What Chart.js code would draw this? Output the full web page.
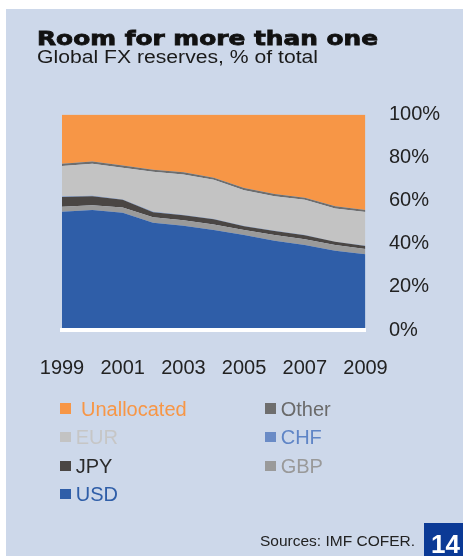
<!DOCTYPE html>
<html>
<head>
<meta charset="utf-8">
<script src="https://cdn.jsdelivr.net/npm/chart.js@4/dist/chart.umd.min.js"></script>
<style>
  html, body { margin: 0; padding: 0; background: #ffffff; }
  #page { position: relative; width: 463px; height: 556px; overflow: hidden; background: #ffffff; }
  #panel { position: absolute; left: 6px; top: 9px; width: 457px; height: 547px; background: #cdd8ea; }
  #chart { position: absolute; left: 0; top: 0; }
  .txt { position: absolute; white-space: nowrap; line-height: 1; font-family: "Liberation Sans", Arial, sans-serif; }
  #title { left: 37px; top: 28.6px; font-family: "DejaVu Sans", sans-serif; font-weight: bold; font-size: 19.5px; color: #111; -webkit-text-stroke: 0.8px #111; transform-origin: 0 0; display: inline-block; }
  #subtitle { left: 37px; top: 48.5px; font-size: 17.5px; color: #1a1a1a; transform-origin: 0 0; display: inline-block; }
  .sw { position: absolute; width: 10.5px; height: 10.5px; }
  #source { left: 260px; top: 532.6px; font-size: 15.5px; color: #222; }
  #pagebox { position: absolute; left: 424px; top: 523px; width: 39px; height: 33px; background: #0b3a96; }
  #pagenum { left: 431px; top: 530.7px; font-size: 26px; font-weight: bold; color: #ffffff; }
</style>
</head>
<body>
<div id="page">
  <div id="panel"></div>
  <canvas id="chart" width="463" height="556"></canvas>
  <span class="txt" id="title">Room for more than one</span>
  <span class="txt" id="subtitle">Global FX reserves, % of total</span>
  <div id="legend"></div>
  <span class="txt" id="source">Sources: IMF COFER.</span>
  <div id="pagebox"></div>
  <span class="txt" id="pagenum">14</span>
</div>
<script>
// ---- data, % of total global FX reserves ----
const years = ['1999','2000','2001','2002','2003','2004','2005','2006','2007','2008','2009'];
const usd         = [54.9, 55.7, 54.4, 49.8, 48.4, 46.4, 44.1, 41.4, 39.4, 36.8, 35.1];
const gbp         = [2.3, 2.2, 2.4, 2.5, 2.5, 2.6, 2.3, 2.7, 2.7, 2.6, 2.5];
const jpy         = [4.5, 4.2, 3.6, 2.3, 2.3, 2.4, 1.8, 1.8, 1.9, 1.5, 1.4];
const chf         = [0.2, 0.2, 0.2, 0.3, 0.2, 0.1, 0.1, 0.1, 0.1, 0.1, 0.1];
const eur         = [14.2, 14.8, 14.7, 18.5, 18.8, 18.2, 16.6, 16.1, 16.3, 15.4, 15.6];
const other       = [1.1, 1.1, 1.0, 1.0, 1.0, 1.0, 1.0, 1.0, 1.0, 1.0, 1.0];
const unallocated = [22.8, 21.8, 23.7, 25.6, 26.8, 29.3, 34.1, 36.9, 38.6, 42.6, 44.3];
const yTicks = [0, 20, 40, 60, 80, 100];

// stacking order bottom -> top
const series = [
  { name: 'USD',         data: usd,         color: '#2f5ea8', text: '#2f5ea8' },
  { name: 'GBP',         data: gbp,         color: '#9a9a9a', text: '#999999' },
  { name: 'JPY',         data: jpy,         color: '#4a4644', text: '#2b2b2b' },
  { name: 'CHF',         data: chf,         color: '#6a8bc6', text: '#5f85c6' },
  { name: 'EUR',         data: eur,         color: '#c3c3c3', text: '#c6c6c6' },
  { name: 'Other',       data: other,       color: '#6e6e6e', text: '#6a6a6a' },
  { name: 'Unallocated', data: unallocated, color: '#f79646', text: '#f79646' }
];

const datasets = series.map((s, i) => ({
  label: s.name,
  data: s.data,
  backgroundColor: s.color,
  borderColor: s.color,
  borderWidth: 0,
  pointRadius: 0,
  tension: 0,
  fill: i === 0 ? 'origin' : '-1'
}));

const plotArea = { left: 62, right: 365.5, top: 114.5, bottom: 330 };
const W = 463, H = 556;

new Chart(document.getElementById('chart'), {
  type: 'line',
  data: { labels: years, datasets },
  options: {
    responsive: false,
    animation: false,
    layout: { padding: { left: plotArea.left, top: plotArea.top, right: 0, bottom: H - plotArea.bottom - 60 } },
    plugins: { legend: { display: false }, tooltip: { enabled: false }, title: { display: false } },
    elements: { line: { borderWidth: 0 } },
    scales: {
      x: {
        type: 'category',
        offset: false,
        grid: { display: false, drawTicks: false },
        border: { display: true, color: '#ffffff', width: 4, z: 1 },
        afterFit: s => { s.height = 60; },
        ticks: {
          autoSkip: false, maxRotation: 0, padding: 26,
          color: '#222222',
          font: { family: '"Liberation Sans", Arial, sans-serif', size: 20 },
          callback: function (v, i) { return i % 2 === 0 ? years[i] : ''; }
        }
      },
      y: {
        position: 'right',
        stacked: true,
        min: 0, max: 100,
        afterFit: s => { s.width = W - plotArea.right; },
        afterBuildTicks: s => { s.ticks = yTicks.map(v => ({ value: v })); },
        grid: { display: false, drawTicks: false },
        border: { display: false },
        ticks: {
          padding: 23.5,
          color: '#222222',
          font: { family: '"Liberation Sans", Arial, sans-serif', size: 20 },
          callback: v => v + '%'
        }
      }
    }
  }
});

// ---- HTML legend, two columns, in reverse stacking order ----
const legendOrder = series.slice().reverse();
const legend = document.getElementById('legend');
const colX = [60, 265];
const rowY = [408.3, 436.8, 465.8, 494.2];
legendOrder.forEach((s, i) => {
  const col = i % 2, row = Math.floor(i / 2);
  const cy = rowY[row];
  const sw = document.createElement('div');
  sw.className = 'sw';
  sw.style.left = colX[col] + 'px';
  sw.style.top = (cy - 5.25) + 'px';
  sw.style.background = s.color;
  legend.appendChild(sw);
  const t = document.createElement('span');
  t.className = 'txt';
  t.textContent = s.name;
  t.style.fontSize = '20px';
  t.style.color = s.text;
  t.style.left = (colX[col] + 15.7 + (s.name === 'Unallocated' ? 5.3 : 0)) + 'px';
  t.style.top = (cy - 9.77) + 'px';
  legend.appendChild(t);
});

// stretch the heading texts to the reference widths
function fit(id, target) {
  const el = document.getElementById(id);
  const w = el.getBoundingClientRect().width;
  if (w > 0) el.style.transform = 'scaleX(' + (target / w) + ')';
}
fit('title', 341);
fit('subtitle', 281);
</script>
</body>
</html>
